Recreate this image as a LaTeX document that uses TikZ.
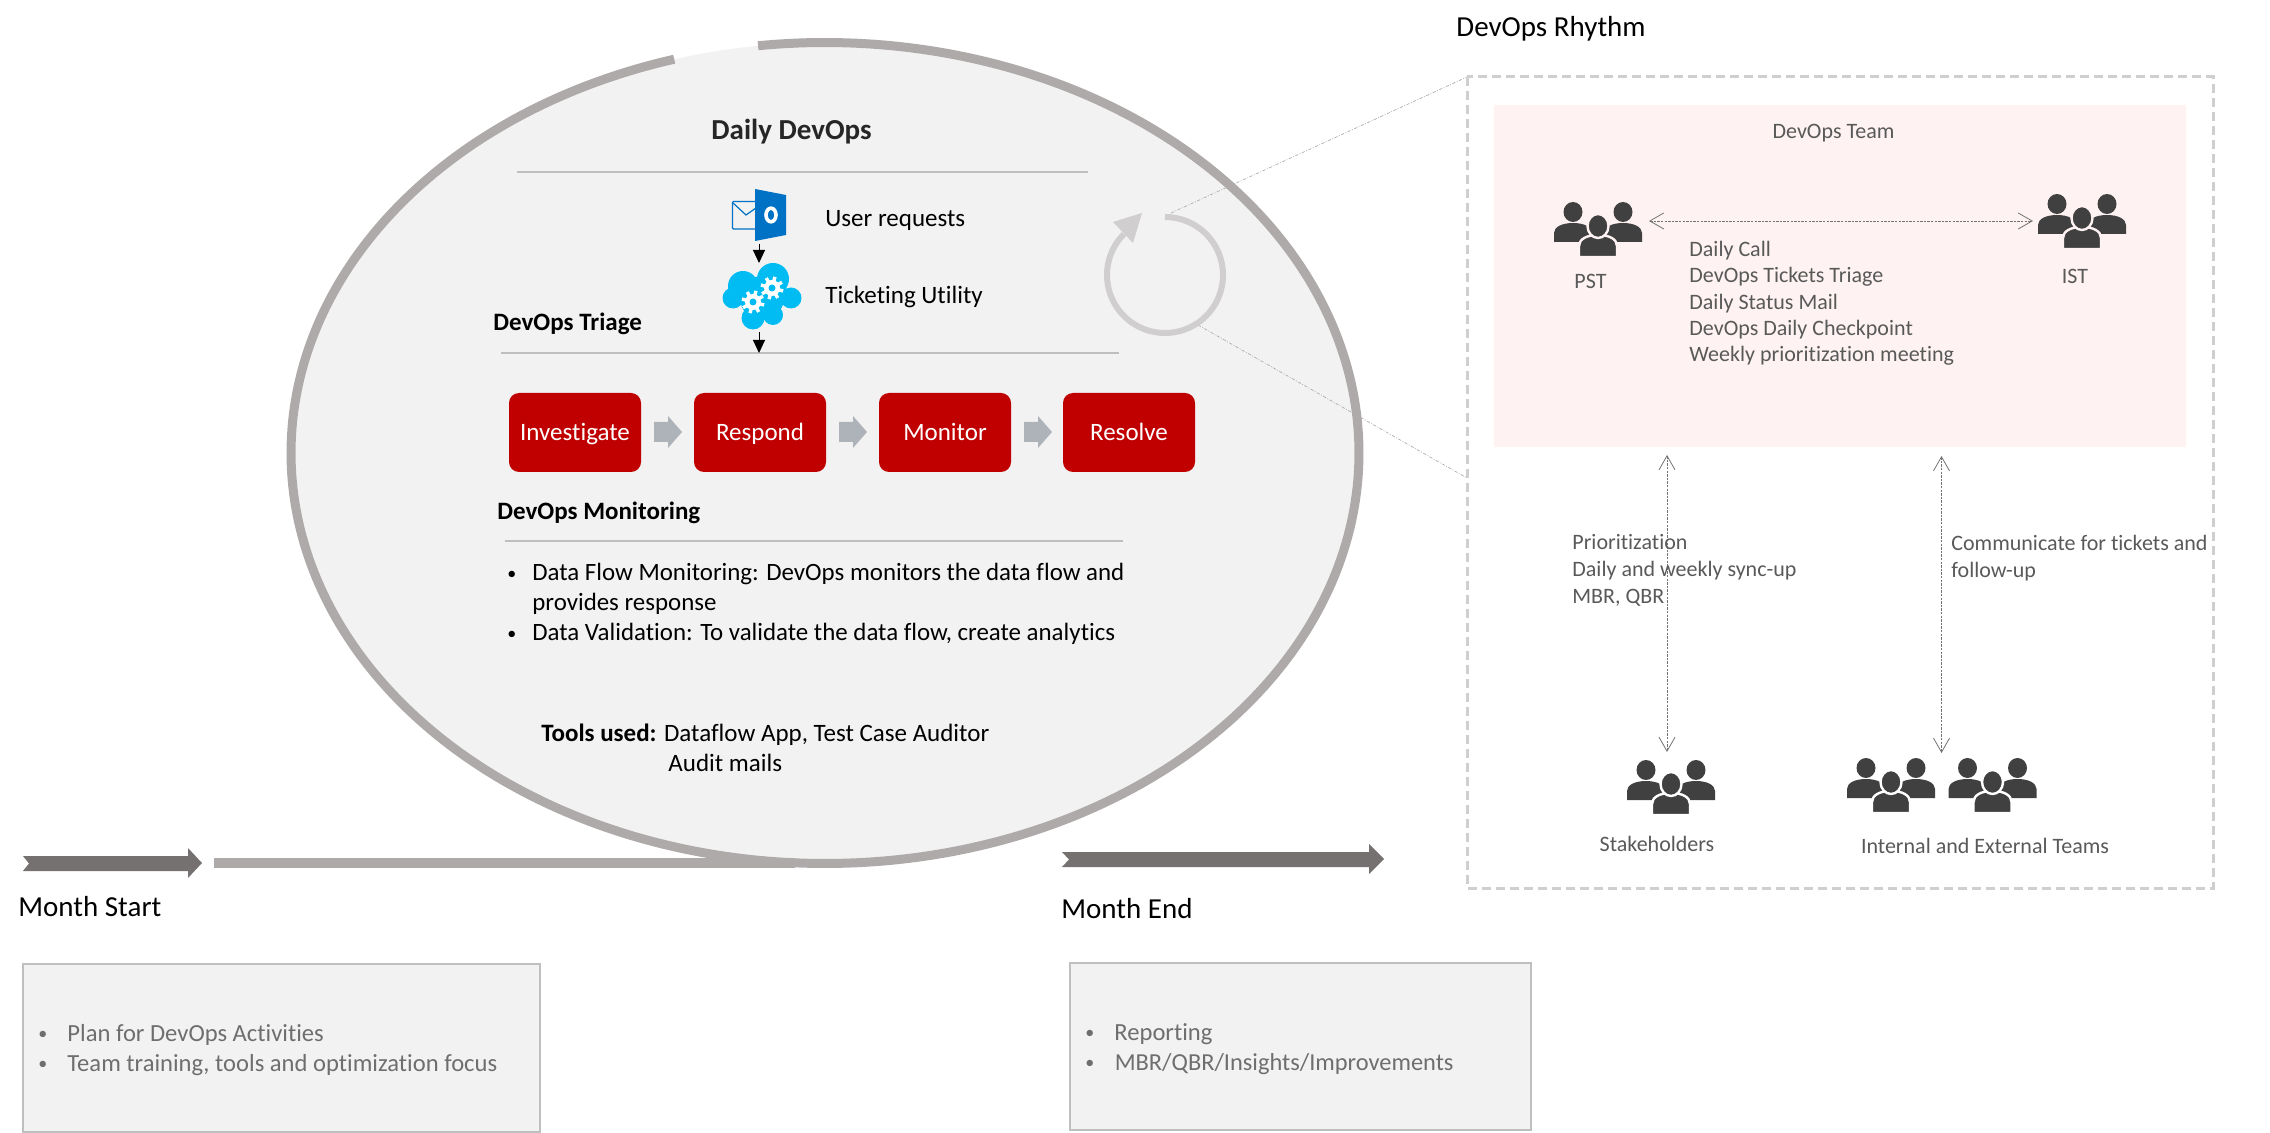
\documentclass[tikz,border=0pt]{standalone}
\usepackage{fontspec}
\setmainfont{Carlito}[Ligatures=NoCommon]
\usetikzlibrary{arrows.meta}
\definecolor{ringgrey}{HTML}{AEAAAA}
\definecolor{panelgrey}{HTML}{F2F2F2}
\definecolor{rulegrey}{HTML}{BFBFBF}
\definecolor{cyclegrey}{HTML}{D0CECE}
\definecolor{stepred}{HTML}{C00000}
\definecolor{stepgrey}{HTML}{AEB2B9}
\definecolor{darkarrow}{HTML}{767171}
\definecolor{teampink}{HTML}{FEF2F2}
\definecolor{icondark}{HTML}{404040}
\definecolor{bodytext}{HTML}{595959}
\definecolor{lighttext}{HTML}{6E6E6E}
\definecolor{cloudblue}{HTML}{00BCF2}
\definecolor{outlookblue}{HTML}{0072C6}
\newcommand{\fpx}[2]{\fontsize{#1pt}{#2pt}\selectfont}
\newcommand{\smallbullet}{\raisebox{0.7pt}{\fontsize{9}{9}\selectfont •}}
\newcommand{\peopleicon}[3]{%
\begin{scope}[shift={(#1,#2)}]
\fill[icondark] (0,40) -- (0,31) .. controls (0,25) and (8,21) .. (19,21) .. controls (30,21) and (38,25) .. (38,31) -- (38,40) -- cycle;
\fill[icondark] (50,40) -- (50,31) .. controls (50,25) and (58,21) .. (69,21) .. controls (80,21) and (88,25) .. (88,31) -- (88,40) -- cycle;
\fill[icondark] (19,10) circle [x radius=9.5, y radius=10];
\fill[icondark] (69,10) circle [x radius=9.5, y radius=10];
\filldraw[fill=icondark,draw=#3,line width=1.2pt] (25,55) -- (25,44) .. controls (25,37) and (33,33) .. (44,33) .. controls (55,33) and (63,37) .. (63,44) -- (63,55) -- cycle;
\filldraw[fill=icondark,draw=#3,line width=1.2pt] (44,24) circle [x radius=10.5, y radius=12];
\end{scope}}
\newcommand{\gearicon}[2]{%
\foreach \a in {0,45,...,315}{\draw[white,line width=1.7pt] (#1,#2) -- ++({11.5*cos(\a+15)},{11.5*sin(\a+15)});}
\fill[white] (#1,#2) circle (8);
\fill[cloudblue] (#1,#2) circle (3.5);}
\newcommand{\stepshape}[1]{%
\fill[stepgrey] (#1,422) -- (#1+14,422) -- (#1+14,416) -- (#1+28,432) -- (#1+14,448) -- (#1+14,442) -- (#1,442) -- cycle;}
\tikzset{
  x=0.5pt,y=-0.5pt,
  stepbox/.style={fill=stepred,draw=none,rounded corners=5pt,text=white,minimum width=66pt,minimum height=39.5pt,inner sep=0pt,text height=10pt,text depth=2pt,font=\fpx{12.5}{15}},
  label/.style={inner sep=0pt,anchor=west,align=left},
  thinrule/.style={draw=rulegrey,line width=0.6pt},
  dotlink/.style={draw=rulegrey!90!black,line width=0.35pt,dash pattern=on 1.6pt off 0.8pt on 0.4pt off 0.8pt},
  openarrow/.style={draw=black!55,line width=0.4pt,dash pattern=on 1.2pt off 0.6pt,{Straight Barb[length=7pt,width=8pt,line width=0.4pt]}-{Straight Barb[length=7pt,width=8pt,line width=0.4pt]}},
  blacktip/.style={draw=black,line width=0.5pt,-{Triangle[length=6.5pt,width=6pt]}},
  notebox/.style={fill=panelgrey,draw=rulegrey,line width=1pt},
}
\begin{document}
\begin{tikzpicture}
\useasboundingbox (0,0) rectangle (2270,1133);
% big ellipse
\fill[panelgrey] plot[domain=0:360,samples=240,smooth] ({825+534*cos(\x)},{453-410.5*sin(\x)}) -- cycle;
% zoom guide lines
\coordinate (cycleTop) at (1171,213);
\coordinate (cycleLow) at (1198,325);
\coordinate (rhythmTL) at (1467,77);
\coordinate (rhythmL) at (1467,478);
\draw[dotlink] (cycleTop) -- (rhythmTL);
\draw[dotlink] (cycleLow) -- (rhythmL);
% timeline and ring
\draw[ringgrey,line width=5pt] (214,863) -- (795,863);
\draw[ringgrey,line width=4.5pt] plot[domain=97.2:-253.6,samples=400] ({825+534*cos(\x)},{453-410.5*sin(\x)});
% header
\node[label,anchor=base,font=\fpx{14.5}{17}\bfseries,text={rgb,255:red,38;green,38;blue,38}] (daily) at (791.5,140) {Daily DevOps};
\draw[thinrule] (516.5,172) -- (1088,172);
\draw[thinrule] (501,353) -- (1119,353);
\draw[thinrule] (504.5,541) -- (1123,541);
% outlook icon
\draw[outlookblue,line width=0.6pt,rounded corners=0.5pt,fill=panelgrey] (756,201.5) -- (732.5,201.5) -- (732.5,229) -- (756,229);
\draw[outlookblue,line width=0.6pt] (733,203) -- (746,215) -- (756,208);
\fill[outlookblue] (755,189) -- (786,195) -- (786,235) -- (755,241) -- cycle;
\draw[white,line width=1.8pt] (771,215) circle [x radius=5, y radius=6.8];
% cloud icon
\fill[cloudblue] (743,286) circle (15) (773,279) circle (16) (733,298) circle (10.5) (791,298) circle (10.5) (753,318) circle (11.5) (773,315) circle (10) (762,298) circle (22);
\gearicon{753}{302}
\gearicon{772}{288}
\coordinate (outlookS) at (759,244);
\coordinate (cloudN) at (759,263);
\coordinate (cloudS) at (759,332);
\coordinate (triageRule) at (759,353);
\draw[blacktip] (outlookS) -- (cloudN);
\draw[blacktip] (cloudS) -- (triageRule);
\node[label,anchor=base west,font=\fpx{12.5}{15}] (user) at (825,226.5) {User requests};
\node[label,anchor=base west,font=\fpx{12.5}{15}] (ticket) at (825,303.5) {Ticketing Utility};
\node[label,anchor=base west,font=\fpx{12.5}{15}\bfseries] (triage) at (493,331) {DevOps Triage};
% cycle arrow
\draw[cyclegrey,line width=3pt] plot[domain=90:-225,samples=120] ({1165+58*cos(\x)},{275-58*sin(\x)});
\fill[cyclegrey] (1142,213) -- (1113,222) -- (1133,243) -- cycle;
% steps
\node[stepbox] (inv) at (575,432.5) {Investigate};
\node[stepbox] (res) at (760,432.5) {Respond};
\node[stepbox] (mon) at (945,432.5) {Monitor};
\node[stepbox] (rsv) at (1129,432.5) {Resolve};
\stepshape{654}
\stepshape{839}
\stepshape{1024}
% monitoring
\node[label,anchor=base west,font=\fpx{12.5}{15}\bfseries] (monh) at (497,519.5) {DevOps Monitoring};
\node[label,anchor=base west,font=\fpx{12.45}{15}] (b1) at (507,580.5) {\makebox[12.5pt][l]{\smallbullet}Data Flow Monitoring: DevOps monitors the data flow and};
\node[label,anchor=base west,font=\fpx{12.45}{15}] (b1b) at (532,610.5) {provides response};
\node[label,anchor=base west,font=\fpx{12.45}{15}] (b2) at (507,640.5) {\makebox[12.5pt][l]{\smallbullet}Data Validation: To validate the data flow, create analytics};
\node[label,anchor=base west,font=\fpx{12.5}{15}] (tools) at (541,741) {\textbf{Tools used:} Dataflow App, Test Case Auditor};
\node[label,anchor=base west,font=\fpx{12.5}{15}] (audit) at (668,771) {Audit mails};
% month arrows
\fill[darkarrow] (23,856) -- (188,856) -- (188,848) -- (202,863) -- (188,878) -- (188,871) -- (23,871) -- (29,863.5) -- cycle;
\fill[darkarrow] (1062,852) -- (1369,852) -- (1369,844) -- (1384,859) -- (1369,874) -- (1369,867) -- (1062,867) -- (1069,859.5) -- cycle;
\node[label,anchor=base west,font=\fpx{14.5}{17}] (mstart) at (18,916) {Month Start};
\node[label,anchor=base west,font=\fpx{14.5}{17}] (mend) at (1061,918.5) {Month End};
% note boxes
\draw[notebox] (23,964) rectangle (540,1132);
\draw[notebox] (1070,963) rectangle (1531,1130);
\node[label,anchor=base west,text=lighttext,font=\fpx{12.3}{15}] (s1) at (38,1041) {\makebox[14.5pt][l]{\smallbullet}Plan for DevOps Activities};
\node[label,anchor=base west,text=lighttext,font=\fpx{12.3}{15}] (s2) at (38,1071) {\makebox[14.5pt][l]{\smallbullet}Team training, tools and optimization focus};
\node[label,anchor=base west,text=lighttext,font=\fpx{12.3}{15}] (e1) at (1085,1040) {\makebox[14.5pt][l]{\smallbullet}Reporting};
\node[label,anchor=base west,text=lighttext,font=\fpx{12.2}{15}] (e2) at (1085,1070) {\makebox[14.7pt][l]{\smallbullet}MBR/QBR/Insights/Improvements};
% rhythm panel
\node[label,anchor=base west,font=\fpx{14.5}{17}] (rhythm) at (1456,36.5) {DevOps Rhythm};
\draw[draw=cyclegrey,line width=1.5pt,dash pattern=on 4.5pt off 2.5pt] (1467,77) rectangle (2213,888);
\fill[teampink] (1494,105) rectangle (2186,447);
\node[label,anchor=base,text=bodytext,font=\fpx{11}{13}] (team) at (1833.5,138.5) {DevOps Team};
\peopleicon{1554}{202}{teampink}
\peopleicon{2038}{194}{teampink}
\peopleicon{1627}{760}{white}
\peopleicon{1847}{758}{white}
\peopleicon{1948.5}{758}{white}
\coordinate (pstE) at (1649,221);
\coordinate (istW) at (2033,221);
\draw[openarrow] (pstE) -- (istW);
\node[label,anchor=base,text=bodytext,font=\fpx{11}{13}] (pst) at (1590.5,288.5) {PST};
\node[label,anchor=base,text=bodytext,font=\fpx{11}{13}] (ist) at (2075,283.5) {IST};
\node[label,text=bodytext,font=\fpx{11}{13.15}] (duties) at (1689,303.5) {Daily Call\\DevOps Tickets Triage\\Daily Status Mail\\DevOps Daily Checkpoint\\Weekly prioritization meeting};
\coordinate (teamS1) at (1667,455);
\coordinate (stakeN) at (1667,752);
\coordinate (teamS2) at (1941.5,456);
\coordinate (extN) at (1941.5,753);
\draw[openarrow] (teamS1) -- (stakeN);
\draw[openarrow] (teamS2) -- (extN);
\node[label,text=bodytext,font=\fpx{11}{13.5}] (prio) at (1572,570.5) {Prioritization\\Daily and weekly sync-up\\MBR, QBR};
\node[label,text=bodytext,font=\fpx{11}{13.5}] (comm) at (1951,558.5) {Communicate for tickets and\\follow-up};
\node[label,anchor=base,text=bodytext,font=\fpx{11}{13}] (stake) at (1657,851) {Stakeholders};
\node[label,anchor=base,text=bodytext,font=\fpx{11}{13}] (ext) at (1985,853) {Internal and External Teams};
\end{tikzpicture}
\end{document}
